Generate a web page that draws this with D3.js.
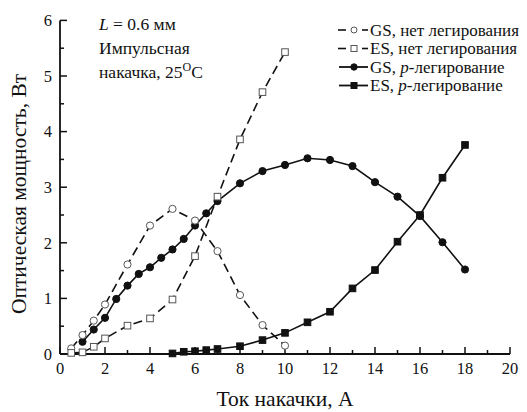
<!DOCTYPE html>
<html>
<head>
<meta charset="utf-8">
<script src="https://cdn.jsdelivr.net/npm/d3@7"></script>
<style>
  body { margin: 0; background: #fff; }
  svg { display: block; }
  text { font-family: "Liberation Serif", "Times New Roman", serif; fill: #111; }
</style>
</head>
<body>
<svg id="chart" width="527" height="412"></svg>
<script>
// Pump current, A
const gsUndopedX = [0.5, 1, 1.5, 2, 3, 4, 5, 6, 7, 8, 9, 10];
const gsUndopedY = [0.1, 0.34, 0.6, 0.89, 1.61, 2.31, 2.61, 2.4, 1.85, 1.06, 0.52, 0.15];

const esUndopedX = [0.5, 1, 1.5, 2, 3, 4, 5, 6, 7, 8, 9, 10];
const esUndopedY = [0.02, 0.03, 0.13, 0.28, 0.51, 0.64, 0.98, 1.76, 2.83, 3.86, 4.71, 5.43];

const gsDopedX = [1, 1.5, 2, 2.5, 3, 3.5, 4, 4.5, 5, 5.5, 6, 6.5, 7, 8, 9, 10, 11, 12, 13, 14, 15, 16, 17, 18];
const gsDopedY = [0.22, 0.44, 0.65, 0.99, 1.23, 1.44, 1.56, 1.73, 1.88, 2.07, 2.31, 2.53, 2.75, 3.07, 3.29, 3.4, 3.52, 3.49, 3.38, 3.09, 2.83, 2.48, 2.01, 1.52];

const esDopedX = [5, 5.5, 6, 6.5, 7, 8, 9, 10, 11, 12, 13, 14, 15, 16, 17, 18];
const esDopedY = [0.01, 0.04, 0.05, 0.07, 0.09, 0.14, 0.25, 0.38, 0.57, 0.76, 1.18, 1.51, 2.02, 2.5, 3.17, 3.76];

const xTicks = [0, 2, 4, 6, 8, 10, 12, 14, 16, 18, 20];
const yTicks = [0, 1, 2, 3, 4, 5, 6];

const legendLabels = ["GS, нет легирования", "ES, нет легирования", "GS, ", "ES, "];
const noteLines = ["Импульсная", "накачка, 25"];

const svg = d3.select("#chart");
const x = d3.scaleLinear().domain([0, 20]).range([60, 510]);
const y = d3.scaleLinear().domain([0, 6]).range([354, 20.4]);

const toPts = (xs, ys) => xs.map((v, i) => [v, ys[i]]);
const line = d3.line().x(d => x(d[0])).y(d => y(d[1]));

// Axes: ticks pointing inward, majors plus minors
const gx = svg.append("g").attr("transform", `translate(0,${y(0)})`);
gx.append("line").attr("x1", x(0)).attr("x2", x(20)).attr("stroke", "#111").attr("stroke-width", 1.8);
gx.selectAll("line.tk").data(d3.range(0, 21, 1)).join("line")
  .attr("class", "tk")
  .attr("x1", d => x(d)).attr("x2", d => x(d))
  .attr("y1", 0).attr("y2", d => (d % 2 === 0 ? -7 : -4))
  .attr("stroke", "#111").attr("stroke-width", 1.5);
gx.selectAll("text").data(xTicks).join("text")
  .attr("x", d => x(d)).attr("y", 20)
  .attr("text-anchor", "middle").attr("font-size", 16.5)
  .text(d => d);

const gy = svg.append("g").attr("transform", `translate(${x(0)},0)`);
gy.append("line").attr("y1", y(0)).attr("y2", y(6)).attr("stroke", "#111").attr("stroke-width", 1.8);
gy.selectAll("line.tk").data(d3.range(0, 6.01, 0.5)).join("line")
  .attr("class", "tk")
  .attr("y1", d => y(d)).attr("y2", d => y(d))
  .attr("x1", 0).attr("x2", d => (Number.isInteger(d) ? 7 : 4))
  .attr("stroke", "#111").attr("stroke-width", 1.5);
gy.selectAll("text").data(yTicks).join("text")
  .attr("x", -8).attr("y", d => y(d)).attr("dy", "0.35em")
  .attr("text-anchor", "end").attr("font-size", 16.5)
  .text(d => d);

// Axis titles
svg.append("text").attr("x", 285).attr("y", 406).attr("text-anchor", "middle")
  .attr("font-size", 21.5).text("Ток накачки, А");
svg.append("text").attr("transform", "translate(26,194) rotate(-90)")
  .attr("text-anchor", "middle").attr("font-size", 21.5).text("Оптическая мощность, Вт");

// Series lines
const dash = "9,5";
svg.append("path").datum(toPts(gsUndopedX, gsUndopedY)).attr("d", line)
  .attr("fill", "none").attr("stroke", "#111").attr("stroke-width", 1.6).attr("stroke-dasharray", dash);
svg.append("path").datum(toPts(esUndopedX, esUndopedY)).attr("d", line)
  .attr("fill", "none").attr("stroke", "#111").attr("stroke-width", 1.6).attr("stroke-dasharray", dash);
svg.append("path").datum(toPts(gsDopedX, gsDopedY)).attr("d", line)
  .attr("fill", "none").attr("stroke", "#111").attr("stroke-width", 1.6);
svg.append("path").datum(toPts(esDopedX, esDopedY)).attr("d", line)
  .attr("fill", "none").attr("stroke", "#111").attr("stroke-width", 1.6);

// Markers
const R = 3.6, S = 6.6;
function circles(pts, filled) {
  svg.append("g").selectAll("circle").data(pts).join("circle")
    .attr("cx", d => x(d[0])).attr("cy", d => y(d[1])).attr("r", R)
    .attr("fill", filled ? "#111" : "#fff")
    .attr("stroke", filled ? "#111" : "#555").attr("stroke-width", 1);
}
function squares(pts, filled) {
  svg.append("g").selectAll("rect").data(pts).join("rect")
    .attr("x", d => x(d[0]) - S / 2).attr("y", d => y(d[1]) - S / 2)
    .attr("width", S).attr("height", S)
    .attr("fill", filled ? "#111" : "#fff")
    .attr("stroke", filled ? "#111" : "#555").attr("stroke-width", 1);
}
circles(toPts(gsDopedX, gsDopedY), true);
squares(toPts(esDopedX, esDopedY), true);
circles(toPts(gsUndopedX, gsUndopedY), false);
squares(toPts(esUndopedX, esUndopedY), false);

// Legend
const legY = [30, 48.5, 67, 85.5];
const lg = svg.append("g");
legY.forEach((ly, i) => {
  const dashed = i < 2;
  if (dashed) {
    lg.append("line").attr("x1", 338).attr("x2", 346).attr("y1", ly).attr("y2", ly)
      .attr("stroke", "#111").attr("stroke-width", 1.6);
    lg.append("line").attr("x1", 362).attr("x2", 368).attr("y1", ly).attr("y2", ly)
      .attr("stroke", "#111").attr("stroke-width", 1.6);
  } else {
    lg.append("line").attr("x1", 339).attr("x2", 368).attr("y1", ly).attr("y2", ly)
      .attr("stroke", "#111").attr("stroke-width", 1.8);
  }
  const filled = !dashed;
  if (i % 2 === 0) {
    lg.append("circle").attr("cx", 354).attr("cy", ly).attr("r", filled ? 3.2 : 3)
      .attr("fill", filled ? "#111" : "#fff").attr("stroke", filled ? "#111" : "#555");
  } else {
    lg.append("rect").attr("x", 351).attr("y", ly - 3).attr("width", 6).attr("height", 6)
      .attr("fill", filled ? "#111" : "#fff").attr("stroke", filled ? "#111" : "#555");
  }
  const t = lg.append("text").attr("x", 370).attr("y", ly).attr("dy", "0.33em").attr("font-size", 17);
  t.append("tspan").text(legendLabels[i]);
  if (i >= 2) {
    t.append("tspan").attr("font-style", "italic").text("p");
    t.append("tspan").text("-легирование");
  }
});

// Annotation
const note = svg.append("g").attr("font-size", 17.5);
const t1 = note.append("text").attr("x", 99).attr("y", 30);
t1.append("tspan").attr("font-style", "italic").text("L");
t1.append("tspan").text(" = 0.6 мм");
note.append("text").attr("x", 99).attr("y", 54).text(noteLines[0]);
const t3 = note.append("text").attr("x", 99).attr("y", 78);
t3.append("tspan").text(noteLines[1]);
t3.append("tspan").attr("font-size", 12).attr("dy", -7).text("O");
t3.append("tspan").attr("dy", 7).text("C");
</script>
</body>
</html>
